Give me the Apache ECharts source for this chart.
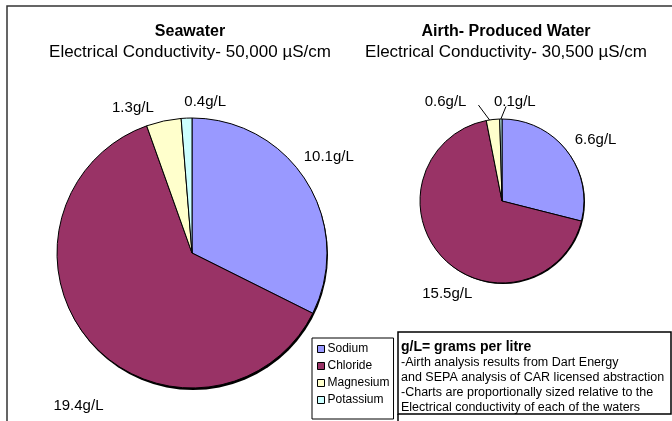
<!DOCTYPE html>
<html>
<head>
<meta charset="utf-8">
<script src="https://cdn.jsdelivr.net/npm/echarts@6/dist/echarts.min.js"></script>
<style>
html,body{margin:0;padding:0;background:#fff;}
#chart{width:672px;height:421px;}
</style>
</head>
<body>
<div id="chart"></div>
<script>
const categories = ['Sodium', 'Chloride', 'Magnesium', 'Potassium'];
const seawaterValues = [10.1, 19.4, 1.3, 0.4];
const airthValues = [6.6, 15.5, 0.6, 0.1];
const colors = ['#9999FF', '#993366', '#FFFFCC', '#CCFFFF'];
const titles = ['Seawater', 'Airth- Produced Water'];
const subtitles = ['Electrical Conductivity- 50,000 µS/cm', 'Electrical Conductivity- 30,500 µS/cm'];
const noteTitle = 'g/L= grams per litre';
const noteLines = [
  '-Airth analysis results from Dart Energy',
  'and SEPA analysis of CAR licensed abstraction',
  '-Charts are proportionally sized relative to the',
  'Electrical conductivity of each of the waters'
];

const FONT = 'Liberation Sans, Arial, sans-serif';
const chart = echarts.init(document.getElementById('chart'));

function makeData(values, lineShow) {
  return values.map((v, i) => ({
    name: categories[i],
    value: v,
    itemStyle: { color: colors[i] },
    labelLine: { show: lineShow[i] }
  }));
}

// small label nudges (relative offsets) mimicking the spreadsheet's label placement
const seaNudge = [[-24, -18], [32, 54], [2, 1], [49, -2]];
const airNudge = [[-12, -2], [49, 27], [-16, -4], [44, -3]];
// which end of the moved label the leader line attaches to: 'right', 'left' or none
const airLineEnd = [null, null, 'right', 'left'];

function nudger(n, lineEnd, center) {
  return function (p) {
    const d = n[p.dataIndex];
    const out = { dx: d[0], dy: d[1], hideOverlap: false };
    const side = lineEnd && lineEnd[p.dataIndex];
    if (side && p.labelLinePoints && p.labelRect) {
      const r = p.labelRect;
      const nx = r.x + d[0], ny = r.y + d[1];
      let start = p.labelLinePoints[0];
      if (side === 'right') {
        // leader reaches a little into the wedge
        const vx = center[0] - start[0], vy = center[1] - start[1];
        const len = Math.sqrt(vx * vx + vy * vy) || 1;
        start = [start[0] + vx / len * 6, start[1] + vy / len * 6];
      }
      const end = side === 'right'
        ? [nx + r.width + 12, ny + r.height - 4]
        : [nx + 12, ny + r.height - 3];
      out.labelLinePoints = [start, end, end];
    }
    return out;
  };
}

const labelStyle = { formatter: '{c}g/L', fontSize: 15, color: '#000', fontFamily: FONT };
const seaCenter = [192, 253];
const airCenter = [502, 201];

chart.setOption({
  animation: false,
  textStyle: { fontFamily: FONT },
  title: [0, 1].map(i => ({
    text: titles[i],
    subtext: subtitles[i],
    left: i === 0 ? 190 : 506,
    top: 24,
    textAlign: 'center',
    padding: 0,
    itemGap: 4,
    textStyle: { fontSize: 16, fontWeight: 'bold', color: '#000', fontFamily: FONT },
    subtextStyle: { fontSize: 17, color: '#000', fontFamily: FONT }
  })),
  legend: {
    orient: 'vertical',
    left: 312,
    top: 338,
    data: categories,
    icon: 'rect',
    itemWidth: 7,
    itemHeight: 7,
    itemGap: 3,
    padding: [4, 4, 12, 5],
    borderColor: '#000',
    borderWidth: 1,
    backgroundColor: '#fff',
    selectedMode: false,
    itemStyle: { borderColor: '#000', borderWidth: 1 },
    textStyle: { fontSize: 12, color: '#000', lineHeight: 14, fontFamily: FONT, padding: [0, 0, 0, -2] }
  },
  graphic: [
    { type: 'rect', z: -10, shape: { x: 7, y: 6, width: 720, height: 500 }, style: { fill: 'none', stroke: '#333', lineWidth: 1.5 } },
    { type: 'rect', z: 10, shape: { x: 398, y: 332, width: 273, height: 82 }, style: { fill: '#fff', stroke: '#000', lineWidth: 1.5 } },
    { type: 'line', z: 10, shape: { x1: 398, y1: 414, x2: 398, y2: 430 }, style: { stroke: '#000', lineWidth: 1.5 } },
    { type: 'text', z: 11, left: 401, top: 340, style: { text: noteTitle, font: 'bold 14px ' + FONT, fill: '#000' } },
    { type: 'text', z: 11, left: 401, top: 355, style: { text: noteLines.join('\n'), font: '12.5px ' + FONT, lineHeight: 15, fill: '#000' } }
  ],
  series: [
    { type: 'pie', silent: true, center: [193, 255], radius: 135, data: [{ value: 1, name: '_s1' }],
      itemStyle: { color: '#000' }, label: { show: false }, labelLine: { show: false }, z: 1 },
    { type: 'pie', silent: true, center: [503, 202], radius: 82, data: [{ value: 1, name: '_s2' }],
      itemStyle: { color: '#000' }, label: { show: false }, labelLine: { show: false }, z: 1 },
    {
      name: 'Seawater', type: 'pie', z: 2,
      center: seaCenter, radius: 135, startAngle: 90, clockwise: true,
      avoidLabelOverlap: false,
      data: makeData(seawaterValues, [false, false, false, false]),
      itemStyle: { borderColor: '#000', borderWidth: 1 },
      label: Object.assign({ position: 'outside' }, labelStyle),
      labelLine: { length: 14, length2: 4, lineStyle: { color: '#000', width: 1 } },
      labelLayout: nudger(seaNudge, null, seaCenter)
    },
    {
      name: 'Airth', type: 'pie', z: 2,
      center: airCenter, radius: 82, startAngle: 90, clockwise: true,
      avoidLabelOverlap: false,
      data: makeData(airthValues, [false, false, true, true]),
      itemStyle: { borderColor: '#000', borderWidth: 1 },
      label: Object.assign({ position: 'outside' }, labelStyle),
      labelLine: { length: 14, length2: 4, lineStyle: { color: '#000', width: 1 } },
      labelLayout: nudger(airNudge, airLineEnd, airCenter)
    }
  ]
});
</script>
</body>
</html>
